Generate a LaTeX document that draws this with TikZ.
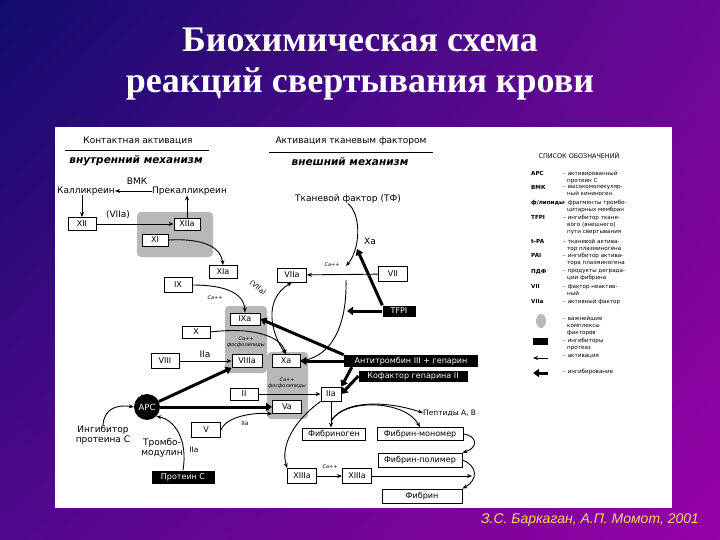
\documentclass[tikz,border=0pt]{standalone}
\usepackage{fontspec}
\setmainfont{Liberation Serif}
\newfontfamily\dejavu{DejaVu Sans}
\newfontfamily\capfont{Liberation Sans}
\usetikzlibrary{arrows.meta, shadings}

\definecolor{bgnavy}{RGB}{16,12,108}
\definecolor{bgviolet}{RGB}{106,8,150}
\definecolor{bgplum}{RGB}{80,8,140}
\definecolor{bgmagenta}{RGB}{150,0,165}
\definecolor{grp}{RGB}{184,184,184}
\definecolor{capyellow}{RGB}{250,214,110}

\begin{document}
\begin{tikzpicture}
  [x=1pt, y=-1pt,
   fac/.style={draw, fill=white, line width=0.8pt, inner sep=0pt, minimum width=28pt,
     minimum height=13pt, font=\dejavu\fontsize{8}{9}\selectfont},
   inh/.style={fill=black, text=white, inner sep=0pt, minimum height=11pt,
     font=\dejavu\fontsize{8}{9}\selectfont},
   lbl/.style={inner sep=0pt, align=center, font=\dejavu\fontsize{9}{10.5}\selectfont},
   tiny/.style={inner sep=0pt, align=center, font=\dejavu\itshape\fontsize{5}{6}\selectfont},
   leg/.style={inner sep=0pt, anchor=north west, align=left, font=\dejavu\fontsize{5.6}{7}\selectfont},
   act/.style={line width=0.9pt, -{Stealth[length=5pt,width=4pt]}},
   dbl/.style={line width=0.9pt, {Stealth[length=5pt,width=4pt]}-{Stealth[length=5pt,width=4pt]}},
   blk/.style={line width=3pt, -{Triangle[length=6pt,width=8pt]}}]
  \useasboundingbox (0,0) rectangle (720,540);
  \shade[upper left=bgnavy, upper right=bgviolet, lower left=bgplum, lower right=bgmagenta]
    (0,0) rectangle (720,540);

  % title
  \node[anchor=base, text=white, font=\bfseries\fontsize{36}{40}\selectfont] (ttl1) at (360,52) {Биохимическая схема};
  \node[anchor=base, text=white, font=\bfseries\fontsize{36}{40}\selectfont] (ttl2) at (360,93) {реакций свертывания крови};

  \fill[white] (55,127) rectangle (672,508);

  % complexes
  \fill[grp, rounded corners=4pt] (137,212) rectangle (213,257);
  \fill[grp, rounded corners=4pt] (225,306) rectangle (267,373);
  \fill[grp, rounded corners=4pt] (267,352) rectangle (308,419);

  % headers
  \node[lbl] (hint) at (138,141) {Контактная активация};
  \draw[line width=0.8pt] (65,150) -- (209,150);
  \node[lbl, font=\dejavu\bfseries\itshape\fontsize{10.5}{12}\selectfont] (intr) at (136,161) {внутренний механизм};
  \node[lbl] (hext) at (351,141) {Активация тканевым фактором};
  \draw[line width=0.8pt] (269,152) -- (433,152);
  \node[lbl, font=\dejavu\bfseries\itshape\fontsize{10.5}{12}\selectfont] (extr) at (350,162) {внешний механизм};

  % contact phase
  \node[lbl, anchor=west] (kal) at (57,191) {Калликреин};
  \node[lbl] (vmk) at (137,181) {ВМК};
  \node[lbl, anchor=west] (prek) at (152,191) {Прекалликреин};
  \node[fac] (f12) at (82,224) {XII};
  \node[lbl] (l7a) at (118,215) {(VIIa)};
  \node[fac, minimum width=26pt, minimum height=12pt] (f12a) at (187,224) {XIIa};
  \node[fac, minimum width=26pt, minimum height=12pt] (f11) at (155,240) {XI};
  \node[fac] (f11a) at (223,272) {XIa};
  \node[fac, minimum height=15pt] (f9) at (178,285) {IX};
  \node[fac, minimum width=30pt, minimum height=12pt] (f9a) at (245,319) {IXa};
  \node[fac, minimum height=12pt] (f10) at (196,332) {X};
  \node[fac, minimum height=15pt] (f8) at (165,361) {VIII};
  \node[fac, minimum width=30pt] (f8a) at (247,361) {VIIIa};
  \node[fac] (f10a) at (286,361) {Xa};
  \node[fac, minimum height=12pt] (f2) at (244,394) {II};
  \node[fac, minimum width=29pt] (f5a) at (287,407) {Va};
  \node[fac, minimum width=29pt, minimum height=15pt] (f5) at (206,430) {V};
  \node[tiny] (ca1) at (246,342) {Ca++\\фосфолипиды};
  \node[tiny] (ca2) at (287,383) {Ca++\\фосфолипиды};
  \node[tiny] (ca3) at (215,298) {Ca++};
  \node[lbl, rotate=-40, font=\dejavu\fontsize{7}{8}\selectfont] (l7b) at (258,288) {(VIIa)};
  \node[lbl] (l2a) at (205,354) {IIa};

  % protein C
  \node[circle, fill=black, text=white, minimum size=26pt, inner sep=0pt,
    font=\dejavu\fontsize{8.5}{9}\selectfont] (apc) at (147,407) {APC};
  \node[lbl] (inhc) at (103,435) {Ингибитор\\протеина С};
  \node[lbl] (tmod) at (162,448) {Тромбо-\\модулин};
  \node[lbl, font=\dejavu\fontsize{7.5}{9}\selectfont] (l2b) at (194,450) {IIa};
  \node[inh, minimum width=63pt, minimum height=13pt] (protc) at (183,477) {Протеин С};
  \node[tiny, font=\dejavu\fontsize{6}{7}\selectfont] (l2c) at (245,423) {IIa};

  % tissue factor
  \node[lbl] (tf) at (348,199) {Тканевой фактор (ТФ)};
  \node[lbl] (lxa) at (370,241) {Xa};
  \node[fac, minimum width=29pt, minimum height=14pt] (f7a) at (292,275) {VIIa};
  \node[fac, minimum width=29pt, minimum height=15pt] (f7) at (393,274) {VII};
  \node[tiny] (ca4) at (332,265) {Ca++};
  \node[inh, minimum width=33pt] (tfpi) at (399,311) {TFPI};
  \coordinate (vj) at (346,266);
  \coordinate (vk) at (346,280);
  \coordinate (tfx) at (357,249);
  \coordinate (tfy) at (347,311);

  % inhibitors
  \node[inh, minimum width=134pt, minimum height=12pt] (at3) at (411,361) {Антитромбин III + гепарин};
  \node[inh, minimum width=109pt] (hc2) at (413,376) {Кофактор гепарина II};

  % fibrin
  \node[fac, minimum width=20pt, minimum height=14pt] (f2a) at (331,394) {IIa};
  \node[fac, minimum width=63pt, minimum height=12pt] (fgen) at (334,434) {Фибриноген};
  \node[lbl, anchor=west, font=\dejavu\fontsize{7.5}{9}\selectfont] (pept) at (423,413) {Пептиды А, В};
  \node[fac, minimum width=86pt] (fmon) at (420,434) {Фибрин-мономер};
  \node[fac, minimum width=84pt, minimum height=14pt] (fpol) at (420,460) {Фибрин-полимер};
  \node[fac, minimum width=80pt, minimum height=14pt] (fib) at (422,496) {Фибрин};
  \node[fac, minimum width=29pt, minimum height=15pt] (f13) at (302,476) {XIIIa};
  \node[fac, minimum width=29pt, minimum height=15pt] (f13a) at (357,476) {XIIIa};
  \node[tiny] (ca5) at (330,467) {Ca++};
  \coordinate (fg) at (331,421);
  \coordinate (fend) at (472,476);

  % thin arrows
  \draw[act] (prek) -- (kal);
  \draw[act] (f12.north |- kal.south) -- (f12.north);
  \draw[act] (f12) -- (f12a);
  \draw[act] (f12a.north) -- (f12a.north |- prek.south);
  \draw[act] (f11.east) .. controls (205,238) and (221,248) .. (f11a.north);
  \draw[act] (f9.east) .. controls (225,285) and (244,293) .. (f9a.north);
  \draw[act] (f10.east) .. controls (250,327) and (280,335) .. (f10a.north);
  \draw[act] (f8) -- (f8a);
  \draw[act] (inhc.north) .. controls (104,410) and (115,404) .. (apc.west);
  \draw[act] (protc.north) .. controls (188,440) and (175,420) .. (apc.south east);
  \draw[act] (f5.east) .. controls (225,418) and (250,412) .. (f5a.south west);
  \draw[act] (f2) -- (f2a);
  \draw[dbl] (f7a.south) .. controls (262,300) and (272,335) .. (f10a.north);
  \draw[act] (tf.south) .. controls (362,215) and (360,250) .. (vj);
  \draw[act] (vk) .. controls (347,320) and (335,355) .. (f10a.east);
  \draw[act] (f7) -- (f7a);
  \draw[act] (f2a.south) -- (f2a.south |- fgen.north);
  \draw[act] (fg) .. controls (345,398) and (392,402) .. (pept.west);
  \draw[act] (fg) .. controls (345,398) and (405,400) .. (fmon.north);
  \draw[act] (fmon.east) .. controls (478,436) and (478,448) .. (fpol.north east);
  \draw[act] (fpol.east) .. controls (478,466) and (478,480) .. (fib.north east);
  \draw[act] (f13) -- (f13a);
  \draw[act] (f13a) -- (fend);
  \draw[act] (f2a.south west) .. controls (295,420) and (280,445) .. (f13.north west);

  % thick arrows
  \draw[blk] (apc) -- (f8a.south west);
  \draw[blk] (apc) -- (f5a);
  \draw[blk] (tfpi.north west) -- (tfx);
  \draw[blk] (tfpi.west) -- (tfy);
  \draw[blk] (at3.north west) -- (f9a.east);
  \draw[blk] (at3.west) -- (f10a.east);
  \draw[blk] ([xshift=8pt]at3.south west) -- (f2a.north east);
  \draw[blk] (hc2.west) -- (f2a.east);

  % legend
  \node[leg, font=\dejavu\fontsize{6.4}{7}\selectfont, anchor=center] (lgt) at (579,156) {СПИСОК ОБОЗНАЧЕНИЙ};
  \node[leg] (lg1) at (531,171) {\textbf{APC}};
  \node[leg] (ld1) at (563,171) {– активированный\\\hspace*{4pt}протеин С};
  \node[leg] (lg2) at (531,185) {\textbf{ВМК}};
  \node[leg] (ld2) at (563,185) {– высокомолекуляр-\\\hspace*{4pt}ный кининоген};
  \node[leg] (lg3) at (531,200) {\textbf{ф/липиды}};
  \node[leg] (ld3) at (563,200) {– фрагменты тромбо-\\\hspace*{4pt}цитарных мембран};
  \node[leg] (lg4) at (531,215) {\textbf{TFPI}};
  \node[leg] (ld4) at (563,215) {– ингибитор ткане-\\\hspace*{4pt}вого (внешнего)\\\hspace*{4pt}пути свертывания};
  \node[leg] (lg5) at (531,239) {\textbf{t-PA}};
  \node[leg] (ld5) at (563,239) {– тканевой актива-\\\hspace*{4pt}тор плазминогена};
  \node[leg] (lg6) at (531,253) {\textbf{PAI}};
  \node[leg] (ld6) at (563,253) {– ингибитор актива-\\\hspace*{4pt}тора плазминогена};
  \node[leg] (lg7) at (531,269) {\textbf{ПДФ}};
  \node[leg] (ld7) at (563,269) {– продукты деграда-\\\hspace*{4pt}ции фибрина};
  \node[leg] (lg8) at (531,284) {\textbf{VII}};
  \node[leg] (ld8) at (563,284) {– фактор неактив-\\\hspace*{4pt}ный};
  \node[leg] (lg9) at (531,299) {\textbf{VIIa}};
  \node[leg] (ld9) at (563,299) {– активный фактор};
  \fill[grp] (541,321) ellipse [x radius=5pt, y radius=7pt];
  \node[leg] (ld10) at (563,316) {– важнейшие\\\hspace*{4pt}комплексы\\\hspace*{4pt}факторов};
  \fill (533,338) rectangle (548,345);
  \node[leg] (ld11) at (563,338) {– ингибиторы\\\hspace*{4pt}протеаз};
  \draw[act] (548,358) -- (533,358);
  \node[leg] (ld12) at (563,354) {– активация};
  \draw[blk] (548,373) -- (533,373);
  \node[leg] (ld13) at (563,369) {– ингибирование};

  % source
  \node[font=\capfont\itshape\fontsize{14}{16}\selectfont, text=capyellow] (src) at (590,520) {З.С. Баркаган, А.П. Момот, 2001};
\end{tikzpicture}
\end{document}
